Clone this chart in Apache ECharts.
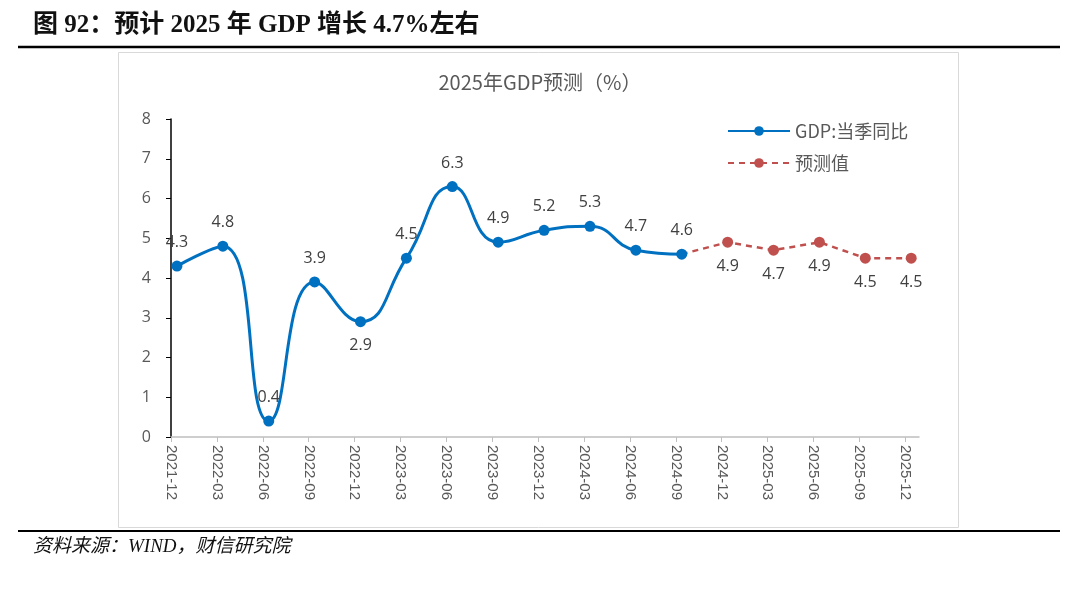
<!DOCTYPE html>
<html>
<head>
<meta charset="utf-8">
<script src="https://cdn.jsdelivr.net/npm/echarts@6/dist/echarts.min.js"></script>
<style>html,body{margin:0;padding:0;background:#fff;}#c{width:1080px;height:590px;}</style>
</head>
<body>
<div id="c"></div>
<script>
const categories = ['2021-12','2022-03','2022-06','2022-09','2022-12','2023-03','2023-06','2023-09','2023-12','2024-03','2024-06','2024-09','2024-12','2025-03','2025-06','2025-09','2025-12'];
const gdpActual = [4.3,4.8,0.4,3.9,2.9,4.5,6.3,4.9,5.2,5.3,4.7,4.6];
const gdpForecast = [null,null,null,null,null,null,null,null,null,null,null,4.6,4.9,4.7,4.9,4.5,4.5];
const yTicks = [0,1,2,3,4,5,6,7,8];

const OFF = 0.13;
const tickVals = categories.map((c,i)=>i-OFF);
const gray = '#595959';

const actualData = gdpActual.map((v,i)=>({
  value:[i,v],
  label:{position: i===4 ? 'bottom' : 'top'}
}));
const forecastData = [];
gdpForecast.forEach((v,i)=>{
  if(v===null) return;
  const first = forecastData.length===0;
  forecastData.push({
    value:[i,v],
    symbol: first ? 'none' : 'circle',
    label:{show: !first}
  });
});

const chart = echarts.init(document.getElementById('c'));
chart.setOption({
  animation:false,
  backgroundColor:'#fff',
  graphic:[
    {type:'rect',shape:{x:118.5,y:52.5,width:840,height:475},style:{fill:'none',stroke:'#d9d9d9',lineWidth:1}},
    {type:'line',shape:{x1:18,y1:47,x2:1060,y2:47},style:{stroke:'#000',lineWidth:2.5}},
    {type:'line',shape:{x1:18,y1:531,x2:1060,y2:531},style:{stroke:'#000',lineWidth:2}},
    {type:'text',left:33,top:13,style:{text:'图 92：预计 2025 年 GDP 增长 4.7%左右',font:'bold 25px "Liberation Serif","Noto Sans CJK SC"',fill:'#111'}},
    {type:'text',left:33,top:537,style:{text:'资料来源：WIND，财信研究院',font:'italic 19px "Liberation Serif","Noto Sans CJK SC"',fill:'#111'}},
    {type:'text',left:'center',top:72,style:{text:'2025年GDP预测（%）',font:'20px "Noto Sans CJK SC"',fill:gray}}
  ],
  legend:{
    orient:'vertical',
    left:722,top:117,
    itemWidth:62,itemHeight:12,itemGap:14,
    textStyle:{color:gray,fontSize:18,fontFamily:'Noto Sans CJK SC'},
    data:['GDP:当季同比','预测值']
  },
  grid:{left:171,right:161,top:119,bottom:153},
  xAxis:{
    type:'value',
    min:-OFF,max:16.17,
    splitLine:{show:false},
    axisLine:{show:true,lineStyle:{color:'#bfbfbf',width:1.5}},
    axisTick:{show:true,length:5,customValues:tickVals,lineStyle:{color:'#bfbfbf'}},
    axisLabel:{
      customValues:tickVals,
      rotate:-90,
      margin:8,
      color:gray,fontSize:15,fontFamily:'Liberation Sans',
      formatter:(v)=>categories[Math.round(v+OFF)] || ''
    }
  },
  yAxis:{
    type:'value',
    min:0,max:8,interval:1,
    splitLine:{show:false},
    axisLine:{show:true,onZero:false,lineStyle:{color:'#000',width:1.5}},
    axisTick:{show:true,length:5,lineStyle:{color:'#000'}},
    axisLabel:{color:gray,fontSize:16,margin:20,fontFamily:'Open Sans',
      formatter:(v)=> yTicks.includes(v) ? String(v) : ''}
  },
  series:[
    {
      name:'GDP:当季同比',type:'line',smooth:0.5,
      data:actualData,
      symbol:'circle',symbolSize:11,
      itemStyle:{color:'#0070C0'},
      lineStyle:{color:'#0070C0',width:3},
      label:{show:true,color:'#404040',fontSize:16,distance:10,fontFamily:'Open Sans'},
      z:3
    },
    {
      name:'预测值',type:'line',
      data:forecastData,
      symbol:'circle',symbolSize:11,
      itemStyle:{color:'#C0504D'},
      lineStyle:{color:'#C0504D',width:2.5,type:[6,5]},
      label:{show:true,position:'bottom',color:'#404040',fontSize:16,distance:11,fontFamily:'Open Sans'},
      z:2
    }
  ]
});
</script>
</body>
</html>
